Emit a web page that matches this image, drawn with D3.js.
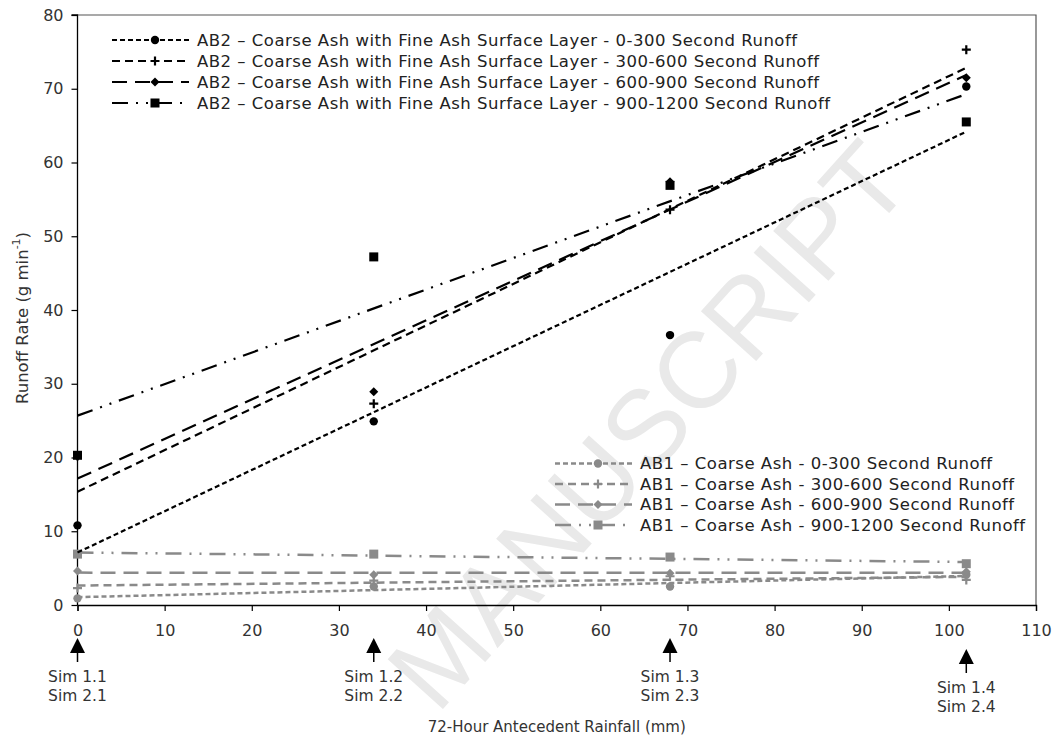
<!DOCTYPE html>
<html>
<head>
<meta charset="utf-8">
<script src="https://cdn.jsdelivr.net/npm/d3@7"></script>
<style>
  html, body { margin: 0; padding: 0; background: #fff; }
  svg { display: block; font-family: "DejaVu Sans", "Liberation Sans", sans-serif; }
</style>
</head>
<body>
<svg id="chart" width="1056" height="745"></svg>
<script>
// Antecedent rainfall (mm) for each simulation pair
const rainfall = [0, 34, 68, 102];

// AB2 - coarse ash with fine ash surface layer (g/min)
const ab2Run0_300    = [10.8, 24.9, 36.6, 70.3];
const ab2Run300_600  = [20.2, 27.3, 53.6, 75.3];
const ab2Run600_900  = [20.2, 28.9, 57.4, 71.5];
const ab2Run900_1200 = [20.3, 47.2, 56.9, 65.5];

// AB1 - coarse ash (g/min)
const ab1Run0_300    = [0.9, 2.5, 2.5, 4.1];
const ab1Run300_600  = [2.3, 3.3, 3.9, 3.4];
const ab1Run600_900  = [4.6, 4.1, 4.3, 4.5];
const ab1Run900_1200 = [6.9, 6.9, 6.5, 5.6];

const ab2Labels = [
  "AB2 \u2013 Coarse Ash with Fine Ash Surface Layer - 0-300 Second Runoff",
  "AB2 \u2013 Coarse Ash with Fine Ash Surface Layer - 300-600 Second Runoff",
  "AB2 \u2013 Coarse Ash with Fine Ash Surface Layer - 600-900 Second Runoff",
  "AB2 \u2013 Coarse Ash with Fine Ash Surface Layer - 900-1200 Second Runoff"
];
const ab1Labels = [
  "AB1 \u2013 Coarse Ash - 0-300 Second Runoff",
  "AB1 \u2013 Coarse Ash - 300-600 Second Runoff",
  "AB1 \u2013 Coarse Ash - 600-900 Second Runoff",
  "AB1 \u2013 Coarse Ash - 900-1200 Second Runoff"
];

const xTicks = [0, 10, 20, 30, 40, 50, 60, 70, 80, 90, 100, 110];
const yTicks = [0, 10, 20, 30, 40, 50, 60, 70, 80];
const simLabels = [["Sim 1.1", "Sim 2.1"], ["Sim 1.2", "Sim 2.2"], ["Sim 1.3", "Sim 2.3"], ["Sim 1.4", "Sim 2.4"]];

// ---- styling ----
const BLACK = "#000";
const GREY = "#8a8a8a";
const markerKinds = ["circle", "plus", "diamond", "square"];
const dashes = ["5,3", "8,5", "15,8", "16,8,2,8,2,8"];

const svg = d3.select("#chart");
const x = d3.scaleLinear().domain([0, 110]).range([77.5, 1036]);
const y = d3.scaleLinear().domain([0, 80]).range([605, 15]);

// Watermark behind the plot
svg.append("text")
  .attr("transform", "translate(648,425) rotate(-48)")
  .attr("text-anchor", "middle")
  .attr("dominant-baseline", "central")
  .style("font-family", "'Liberation Sans', Arial, sans-serif")
  .style("font-size", "108px")
  .attr("fill", "#e9e9e9")
  .text("MANUSCRIPT");

// Plot frame (top and right edges)
svg.append("path")
  .attr("d", `M${x(0)},${y(80)}H${x(110)}V${y(0)}`)
  .attr("fill", "none").attr("stroke", "#555").attr("stroke-width", 1.2);

// Axes
const yAxis = svg.append("g").attr("transform", `translate(${x(0)},0)`)
  .call(d3.axisLeft(y).tickValues(yTicks).tickSize(6).tickPadding(8).tickFormat(d3.format("d")));
const xAxis = svg.append("g").attr("transform", `translate(0,${y(0)})`)
  .call(d3.axisBottom(x).tickValues(xTicks).tickSize(6).tickPadding(14).tickFormat(d3.format("d")));
[yAxis, xAxis].forEach(g => {
  g.select(".domain").attr("stroke", BLACK).attr("stroke-width", 1.3);
  g.selectAll(".tick line").attr("stroke", BLACK).attr("stroke-width", 1.2);
  g.selectAll(".tick text").attr("fill", "#333").style("font-size", "16px")
    .style("font-family", "'DejaVu Sans', sans-serif");
});
yAxis.select(".domain").attr("d", `M-6,${y(80)}H0V${y(0)}`);

// Axis titles
svg.append("text")
  .attr("transform", `translate(22,${(y(0) + y(80)) / 2 + 8}) rotate(-90)`)
  .attr("text-anchor", "middle").attr("dominant-baseline", "central")
  .attr("fill", "#333").style("font-size", "16.5px")
  .text("Runoff Rate (g min")
  .append("tspan").attr("dy", -6).style("font-size", "11px").text("-1")
  .select(function () { return this.parentNode; })
  .append("tspan").attr("dy", 6).text(")");

svg.append("text")
  .attr("x", (x(0) + x(110)) / 2).attr("y", 727)
  .attr("text-anchor", "middle").attr("dominant-baseline", "central")
  .attr("fill", "#333").style("font-size", "15px")
  .text("72-Hour Antecedent Rainfall (mm)");

// Simulation markers below the x axis
rainfall.forEach((r, i) => {
  const cx = x(r);
  const top = i === 3 ? 649 : 638;
  const g = svg.append("g");
  g.append("path")
    .attr("d", `M${cx},${top}L${cx + 7.5},${top + 15}L${cx - 7.5},${top + 15}Z`)
    .attr("fill", BLACK);
  g.append("line").attr("x1", cx).attr("x2", cx)
    .attr("y1", top + 14).attr("y2", top + 24)
    .attr("stroke", BLACK).attr("stroke-width", 1.5);
  simLabels[i].forEach((t, j) => {
    g.append("text").attr("x", cx).attr("y", top + 39 + j * 19)
      .attr("text-anchor", "middle").attr("dominant-baseline", "central")
      .attr("fill", "#333").style("font-size", "15.5px").text(t);
  });
});

// Marker drawing
function drawMarker(sel, kind, color) {
  if (kind === "circle") {
    sel.append("circle").attr("r", 4.2).attr("fill", color);
  } else if (kind === "square") {
    sel.append("rect").attr("x", -4.5).attr("y", -4.5).attr("width", 9).attr("height", 9).attr("fill", color);
  } else if (kind === "diamond") {
    sel.append("path").attr("d", "M0,-4.5L4.5,0L0,4.5L-4.5,0Z").attr("fill", color);
  } else {
    sel.append("path").attr("d", "M-4.5,0H4.5M0,-4.5V4.5")
      .attr("stroke", color).attr("stroke-width", 2.2).attr("fill", "none");
  }
}

// Least-squares trend line over the sampled rainfall range
function trend(values) {
  const mx = d3.mean(rainfall), my = d3.mean(values);
  const sxy = d3.sum(rainfall, (r, i) => (r - mx) * (values[i] - my));
  const sxx = d3.sum(rainfall, r => (r - mx) * (r - mx));
  const b = sxy / sxx, a = my - b * mx;
  const ext = d3.extent(rainfall);
  return ext.map(r => [r, a + b * r]);
}

const line = d3.line().x(d => x(d[0])).y(d => y(d[1]));

function drawGroup(seriesList, color, width) {
  seriesList.forEach((vals, k) => {
    const g = svg.append("g");
    g.append("path").datum(trend(vals)).attr("d", line)
      .attr("fill", "none").attr("stroke", color).attr("stroke-width", width)
      .attr("stroke-dasharray", dashes[k]);
    vals.forEach((v, i) => {
      drawMarker(g.append("g").attr("transform", `translate(${x(rainfall[i])},${y(v)})`), markerKinds[k], color);
    });
  });
}

drawGroup([ab1Run0_300, ab1Run300_600, ab1Run600_900, ab1Run900_1200], GREY, 2.5);
drawGroup([ab2Run0_300, ab2Run300_600, ab2Run600_900, ab2Run900_1200], BLACK, 2.2);

// Legends
function drawLegend(labels, color, width, x0, y0, rowH) {
  labels.forEach((lab, k) => {
    const cy = y0 + k * rowH;
    const g = svg.append("g");
    g.append("line").attr("x1", x0).attr("x2", x0 + 77).attr("y1", cy).attr("y2", cy)
      .attr("stroke", color).attr("stroke-width", width).attr("stroke-dasharray", dashes[k]);
    drawMarker(g.append("g").attr("transform", `translate(${x0 + 43},${cy})`), markerKinds[k], color);
    g.append("text").attr("x", x0 + 85).attr("y", cy)
      .attr("dominant-baseline", "central").attr("fill", "#222")
      .style("font-size", "16.5px").style("letter-spacing", "0.5px").text(lab);
  });
}
drawLegend(ab2Labels, BLACK, 2.2, 112, 40, 21);
drawLegend(ab1Labels, GREY, 2.5, 555, 463.5, 20.5);
</script>
</body>
</html>
